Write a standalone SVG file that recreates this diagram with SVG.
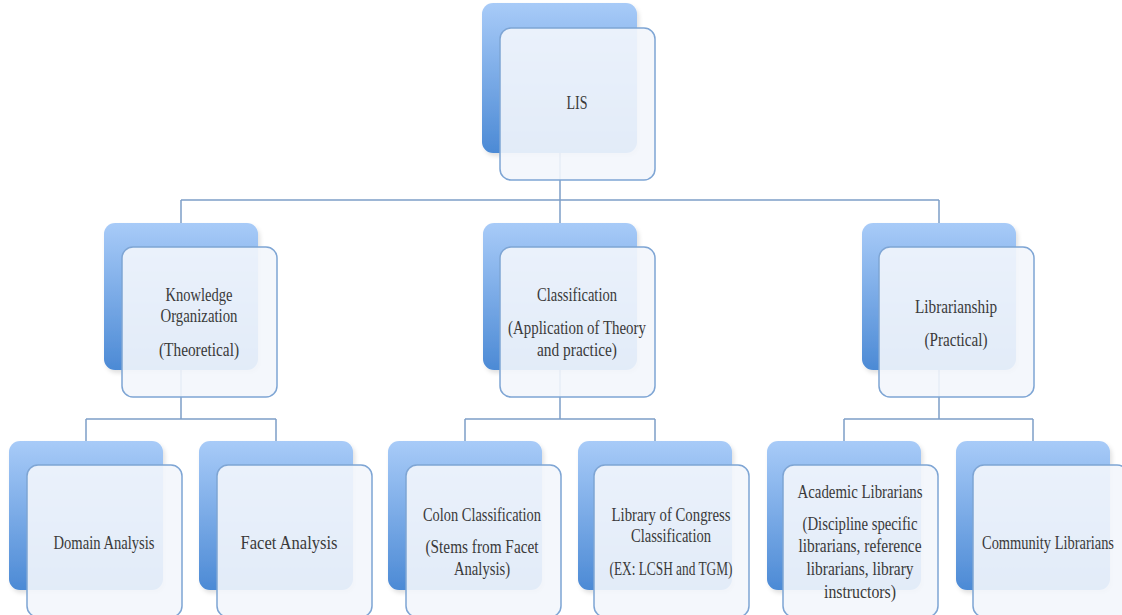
<svg xmlns="http://www.w3.org/2000/svg" width="1122" height="615" viewBox="0 0 1122 615">
<style>
.back{fill:url(#g);}
.front{fill:#f3f6fc;fill-opacity:0.9;stroke:#7ea5d4;stroke-width:1.5;}
.conn{fill:none;stroke:#7e9fc8;stroke-width:1.5;}
text{font-family:"Liberation Serif",serif;font-size:19px;fill:#3a3a3a;text-anchor:middle;}
</style>
<defs>
<linearGradient id="g" x1="0" y1="0" x2="0" y2="1">
<stop offset="0" stop-color="#a8cbf8"/>
<stop offset="1" stop-color="#4c8ad5"/>
</linearGradient>
<filter id="sh" x="-10%" y="-10%" width="130%" height="130%">
<feDropShadow dx="2" dy="3" stdDeviation="2" flood-color="#000" flood-opacity="0.12"/>
</filter>
</defs>
<rect width="1122" height="615" fill="#ffffff"/>
<g id="connectors">
<path class="conn" d="M560,153 V200 M181,200 H939 M181,200 V223 M560,200 V223 M939,200 V223"/>
<path class="conn" d="M181,370 V419 M86,419 H276 M86,419 V441 M276,419 V441"/>
<path class="conn" d="M560,370 V419 M465,419 H655 M465,419 V441 M655,419 V441"/>
<path class="conn" d="M939,370 V419 M844,419 H1033 M844,419 V441 M1033,419 V441"/>
</g>
<g id="lis">
<rect class="back" x="482" y="3" width="155" height="150" rx="11" filter="url(#sh)"/>
<rect class="front" x="500" y="28" width="155" height="152" rx="11"/>
<text x="577" y="109" textLength="21" lengthAdjust="spacingAndGlyphs">LIS</text>
</g>
<g id="knowledge">
<rect class="back" x="104" y="223" width="154" height="147" rx="11" filter="url(#sh)"/>
<rect class="front" x="122" y="247" width="155" height="150" rx="11"/>
<text x="199" y="301" textLength="67" lengthAdjust="spacingAndGlyphs">Knowledge</text>
<text x="199" y="322" textLength="77" lengthAdjust="spacingAndGlyphs">Organization</text>
<text x="199" y="356" textLength="80" lengthAdjust="spacingAndGlyphs">(Theoretical)</text>
</g>
<g id="classification">
<rect class="back" x="483" y="223" width="154" height="147" rx="11" filter="url(#sh)"/>
<rect class="front" x="500" y="247" width="155" height="150" rx="11"/>
<text x="577" y="301" textLength="80" lengthAdjust="spacingAndGlyphs">Classification</text>
<text x="577" y="334" textLength="138" lengthAdjust="spacingAndGlyphs">(Application of Theory</text>
<text x="577" y="356" textLength="80" lengthAdjust="spacingAndGlyphs">and practice)</text>
</g>
<g id="librarianship">
<rect class="back" x="862" y="223" width="154" height="147" rx="11" filter="url(#sh)"/>
<rect class="front" x="879" y="247" width="155" height="150" rx="11"/>
<text x="956" y="313" textLength="82" lengthAdjust="spacingAndGlyphs">Librarianship</text>
<text x="956" y="346" textLength="63" lengthAdjust="spacingAndGlyphs">(Practical)</text>
</g>
<g id="domain">
<rect class="back" x="9" y="441" width="154" height="149" rx="11" filter="url(#sh)"/>
<rect class="front" x="27" y="465" width="155" height="152" rx="11"/>
<text x="104" y="549" textLength="101" lengthAdjust="spacingAndGlyphs">Domain Analysis</text>
</g>
<g id="facet">
<rect class="back" x="199" y="441" width="154" height="149" rx="11" filter="url(#sh)"/>
<rect class="front" x="217" y="465" width="155" height="152" rx="11"/>
<text x="289" y="549" textLength="97" lengthAdjust="spacingAndGlyphs">Facet Analysis</text>
</g>
<g id="colon">
<rect class="back" x="388" y="441" width="154" height="149" rx="11" filter="url(#sh)"/>
<rect class="front" x="406" y="465" width="155" height="152" rx="11"/>
<text x="482" y="521" textLength="118" lengthAdjust="spacingAndGlyphs">Colon Classification</text>
<text x="482" y="553" textLength="113" lengthAdjust="spacingAndGlyphs">(Stems from Facet</text>
<text x="482" y="575" textLength="56" lengthAdjust="spacingAndGlyphs">Analysis)</text>
</g>
<g id="loc">
<rect class="back" x="578" y="441" width="154" height="149" rx="11" filter="url(#sh)"/>
<rect class="front" x="594" y="465" width="155" height="152" rx="11"/>
<text x="671" y="521" textLength="119" lengthAdjust="spacingAndGlyphs">Library of Congress</text>
<text x="671" y="542" textLength="80" lengthAdjust="spacingAndGlyphs">Classification</text>
<text x="671" y="575" textLength="123" lengthAdjust="spacingAndGlyphs">(EX: LCSH and TGM)</text>
</g>
<g id="academic">
<rect class="back" x="767" y="441" width="154" height="149" rx="11" filter="url(#sh)"/>
<rect class="front" x="783" y="465" width="155" height="152" rx="11"/>
<text x="860" y="498" textLength="125" lengthAdjust="spacingAndGlyphs">Academic Librarians</text>
<text x="860" y="530" textLength="115" lengthAdjust="spacingAndGlyphs">(Discipline specific</text>
<text x="860" y="552" textLength="123" lengthAdjust="spacingAndGlyphs">librarians, reference</text>
<text x="860" y="575" textLength="107" lengthAdjust="spacingAndGlyphs">librarians, library</text>
<text x="860" y="598" textLength="72" lengthAdjust="spacingAndGlyphs">instructors)</text>
</g>
<g id="community">
<rect class="back" x="956" y="441" width="154" height="149" rx="11" filter="url(#sh)"/>
<rect class="front" x="973" y="465" width="155" height="152" rx="11"/>
<text x="1048" y="549" textLength="132" lengthAdjust="spacingAndGlyphs">Community Librarians</text>
</g>
</svg>
